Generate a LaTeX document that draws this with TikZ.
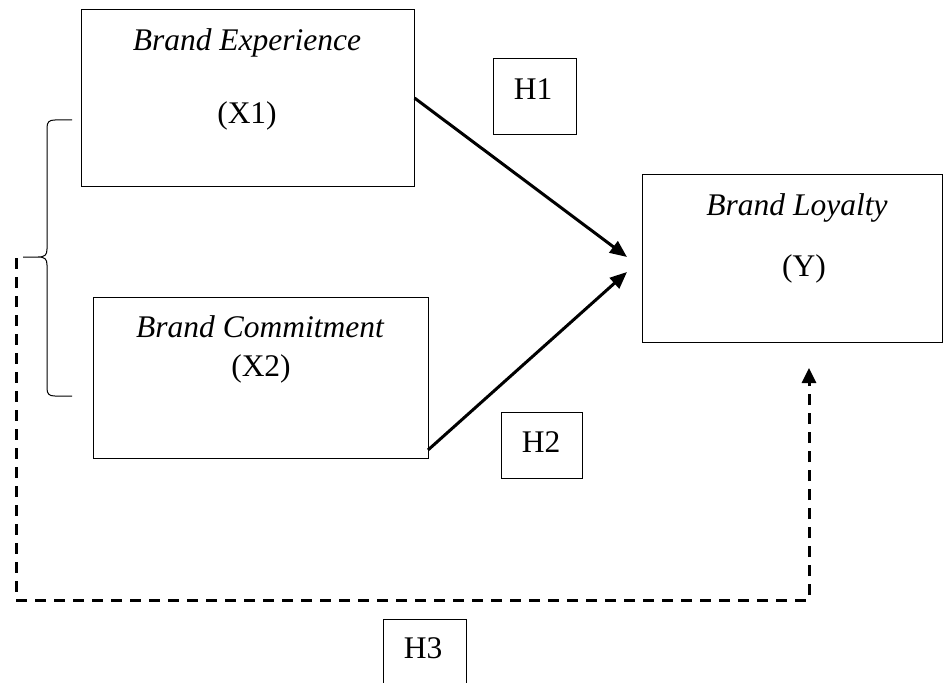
\documentclass[tikz,border=0pt]{standalone}
\usepackage{fontspec}
\setmainfont{Liberation Serif}
\usetikzlibrary{arrows.meta}
\begin{document}
\begin{tikzpicture}[x=1pt,y=-1pt,
  box/.style={draw,line width=1pt,inner sep=0pt},
  lbl/.style={font=\fontsize{31.5}{38}\selectfont,inner sep=0pt,anchor=base},
  link/.style={line width=3pt,-{Triangle[length=17pt,width=14pt]}},
  dashlink/.style={line width=3pt,dash pattern=on 11pt off 8pt,-{Triangle[length=15pt,width=14pt]}},
  brace/.style={line width=1pt}]
\clip (0,0) rectangle (944,682);

% variable boxes
\node[box,minimum width=333pt,minimum height=176pt] (x1) at (247.5,98) {};
\node[box,minimum width=335pt,minimum height=161pt] (x2) at (260.5,377.5) {};
\node[box,minimum width=300pt,minimum height=168pt] (y) at (792,258) {};

% hypothesis boxes
\node[box,minimum width=83pt,minimum height=75pt] (h1) at (534.5,96.5) {};
\node[box,minimum width=81pt,minimum height=66pt] (h2) at (541.5,445) {};
\node[box,minimum width=83pt,minimum height=75pt] (h3) at (424.5,656.5) {};

% labels
\node[lbl] (x1a) at (247,51) {\itshape Brand Experience};
\node[lbl] (x1b) at (247,124) {(X1)};
\node[lbl] (x2a) at (260,337) {\itshape Brand Commitment};
\node[lbl] (x2b) at (261,376) {(X2)};
\node[lbl] (ya) at (797,215) {\itshape Brand Loyalty};
\node[lbl] (yb) at (804,276) {(Y)};
\node[lbl] (h1t) at (533,100) {H1};
\node[lbl] (h2t) at (541,452) {H2};
\node[lbl] (h3t) at (423,658) {H3};

% arrow end points
\coordinate (t1) at (627,257);
\coordinate (t2) at (627,272);
\coordinate (s2) at (428,450);
\coordinate (d0) at (16,258);
\coordinate (d1) at (16,600);
\coordinate (d2) at (809,600);
\coordinate (d3) at (809,368);

\draw[link] (x1.east) -- (t1);
\draw[link] (s2) -- (t2);
\draw[dashlink] (d0) -- (d1) -- (d2) -- (d3);

% brace grouping X1 and X2
\draw[brace] (72,120) -- (55,120) .. controls (49,120) and (47,122) .. (47,128)
  -- (47,249) .. controls (47,255) and (45,257) .. (38,257) -- (23,257)
  (38,257) .. controls (45,257) and (47,259) .. (47,265)
  -- (47,388) .. controls (47,394) and (49,396) .. (55,396) -- (72,396);
\end{tikzpicture}
\end{document}
